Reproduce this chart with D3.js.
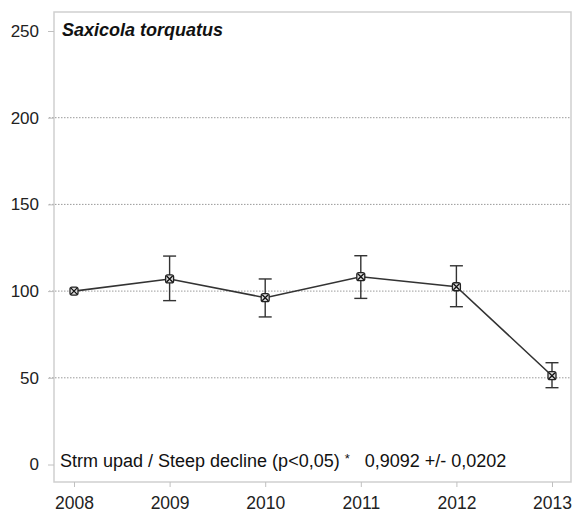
<!DOCTYPE html>
<html><head><meta charset="utf-8">
<script src="https://cdn.jsdelivr.net/npm/d3@7"></script>
<style>body{margin:0;background:#fff}svg{display:block}</style>
</head><body>
<svg id="c" width="574" height="513"></svg>
<script>
const years = [2008, 2009, 2010, 2011, 2012, 2013];
const values = [100, 107.0, 96.2, 108.3, 102.5, 51.2];
const upper = [100, 120.2, 107.0, 120.4, 114.6, 58.7];
const lower = [100, 94.5, 85.1, 95.8, 91.0, 44.3];
const yTicks = [0, 50, 100, 150, 200, 250];
const gridTicks = [50, 100, 150, 200];
const title = "Saxicola torquatus";
const note = "Strm upad / Steep decline (p<0,05) ";
const star = "*";
const trend = "0,9092 +/- 0,0202";

const svg = d3.select("#c");
const frame = {l: 54, t: 12, r: 571, b: 482};
const y = d3.scaleLinear().domain([0, 250]).range([464.5, 31]);
const x = d3.scaleLinear().domain([2008, 2013]).range([74, 552]);
const font = "'Liberation Sans', Arial, sans-serif";

// frame
svg.append("rect").attr("x", frame.l).attr("y", frame.t)
  .attr("width", frame.r - frame.l).attr("height", frame.b - frame.t)
  .attr("fill", "none").attr("stroke", "#cfcfcf").attr("stroke-width", 1.5);

// grid
svg.append("g").selectAll("line").data(gridTicks).join("line")
  .attr("x1", frame.l - 5).attr("x2", frame.r)
  .attr("y1", d => y(d)).attr("y2", d => y(d))
  .attr("stroke", "#9a9a9a").attr("stroke-width", 1).attr("stroke-dasharray", "1.5,1.5");

// y axis
const ya = svg.append("g").attr("transform", `translate(${frame.l},0)`)
  .call(d3.axisLeft(y).tickValues(yTicks).tickSize(6).tickPadding(9).tickFormat(d3.format("d")));
ya.select(".domain").remove();
ya.selectAll("line").attr("stroke", "#c0c0c0");
ya.selectAll("text").attr("font-family", font).attr("font-size", 17).attr("fill", "#222");

// x axis
const xa = svg.append("g").attr("transform", `translate(0,${frame.b})`)
  .call(d3.axisBottom(x).tickValues(years).tickSize(5).tickPadding(10).tickFormat(d3.format("d")));
xa.select(".domain").remove();
xa.selectAll("line").attr("stroke", "#c0c0c0");
xa.selectAll("text").attr("font-family", font).attr("font-size", 17.5).attr("fill", "#222");

// error bars
const eb = svg.append("g").attr("stroke", "#333").attr("stroke-width", 1.4);
years.forEach((yr, i) => {
  if (upper[i] === lower[i]) return;
  const cx = x(yr);
  eb.append("line").attr("x1", cx).attr("x2", cx).attr("y1", y(upper[i])).attr("y2", y(lower[i]));
  eb.append("line").attr("x1", cx - 6.5).attr("x2", cx + 6.5).attr("y1", y(upper[i])).attr("y2", y(upper[i]));
  eb.append("line").attr("x1", cx - 6.5).attr("x2", cx + 6.5).attr("y1", y(lower[i])).attr("y2", y(lower[i]));
});

// line
const data = years.map((yr, i) => ({yr, v: values[i]}));
svg.append("path").datum(data)
  .attr("d", d3.line().x(d => x(d.yr)).y(d => y(d.v)))
  .attr("fill", "none").attr("stroke", "#333").attr("stroke-width", 1.6);

// markers
const mk = svg.append("g").selectAll("g").data(data).join("g")
  .attr("transform", d => `translate(${x(d.yr)},${y(d.v)})`);
mk.append("rect").attr("x", -4).attr("y", -4).attr("width", 8).attr("height", 8).attr("rx", 2)
  .attr("fill", "#ddd").attr("stroke", "#222").attr("stroke-width", 1.3);
mk.append("path").attr("d", "M-3,-3L3,3M-3,3L3,-3").attr("stroke", "#111").attr("stroke-width", 1.3);

// title
svg.append("text").attr("x", 62).attr("y", 36).text(title)
  .attr("font-family", font).attr("font-size", 18).attr("font-weight", "bold")
  .attr("font-style", "italic").attr("fill", "#111");

// note
const t = svg.append("text").attr("x", 60).attr("y", 467)
  .attr("font-family", font).attr("font-size", 18).attr("fill", "#111")
  .style("white-space", "pre");
t.append("tspan").text(note);
t.append("tspan").text(star).attr("font-size", 13).attr("dy", -4);
t.append("tspan").text("   " + trend).attr("dy", 4);
</script>
</body></html>
